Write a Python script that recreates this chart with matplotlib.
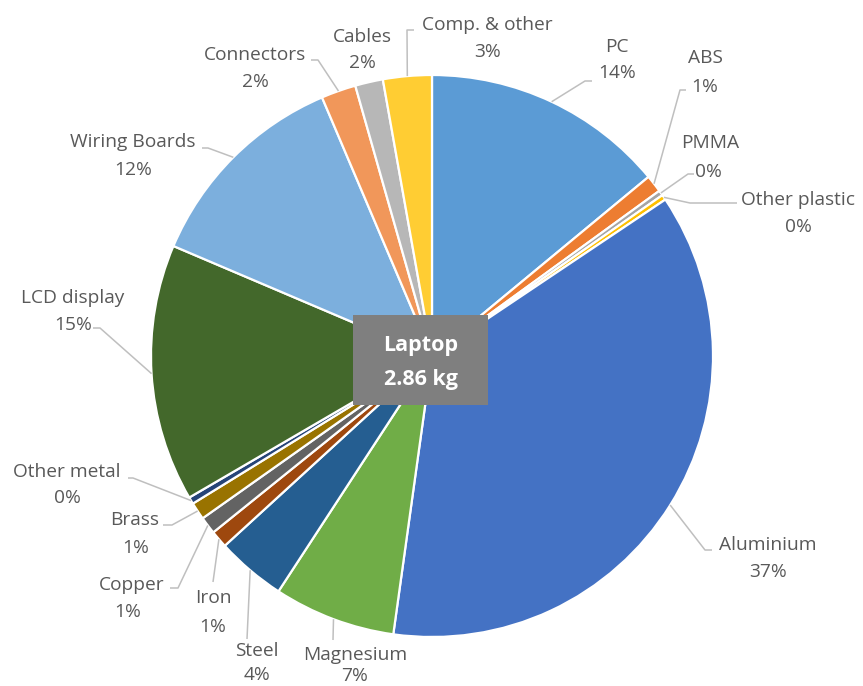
import numpy as np
import matplotlib.pyplot as plt
from matplotlib.patches import Rectangle

plt.rcParams['font.family'] = ['Open Sans', 'DejaVu Sans']

# Material composition of a laptop (share of total mass, %)
materials = ['PC', 'ABS', 'PMMA', 'Other plastic', 'Aluminium', 'Magnesium',
             'Steel', 'Iron', 'Copper', 'Brass', 'Other metal', 'LCD display',
             'Wiring Boards', 'Connectors', 'Cables', 'Comp. & other']
shares = [14.0, 1.0, 0.3, 0.3, 36.6, 7.0, 4.0, 1.0, 1.0, 1.0, 0.4, 14.8,
          12.2, 2.0, 1.6, 2.8]
colors = ['#5B9BD5', '#ED7D31', '#A5A5A5', '#FFC000', '#4472C4', '#70AD47',
          '#255E91', '#9E480E', '#636363', '#997300', '#264478', '#43682B',
          '#7CAFDD', '#F1975A', '#B7B7B7', '#FFCD33']
product = 'Laptop'
total_mass = '2.86 kg'

# label placement (pixel coords): name position, percent position, leader path
label_layout = {
    'PC':            ((617, 47), (617, 73), [(585, 81), (592, 81)]),
    'ABS':           ((705, 58), (705, 87), [(680, 90), (686, 90)]),
    'PMMA':          ((710, 143), (708, 172), [(688, 174), (694, 174)]),
    'Other plastic': ((798, 200), (798, 227), [(690, 203), (737, 203)]),
    'Aluminium':     ((768, 545), (768, 572), [(705, 550), (712, 550)]),
    'Magnesium':     ((355, 655), (355, 676), [(333, 640)]),
    'Steel':         ((257, 651), (257, 675), [(247, 639)]),
    'Iron':          ((213, 598), (213, 627), [(213, 582)]),
    'Copper':        ((132, 585), (128, 612), [(178, 588), (170, 588)]),
    'Brass':         ((135, 520), (136, 548), [(172, 525), (163, 525)]),
    'Other metal':   ((67, 472), (67, 498), [(133, 478), (128, 478)]),
    'LCD display':   ((73, 298), (73, 325), [(100, 328), (93, 328)]),
    'Wiring Boards': ((133, 142), (133, 170), [(208, 148), (202, 148)]),
    'Connectors':    ((255, 55), (255, 82), [(318, 60), (311, 60)]),
    'Cables':        ((362, 37), (362, 63), []),
    'Comp. & other': ((487, 25), (488, 52), [(407, 30), (414, 30)]),
}

W, H = 863, 686
cx, cy, r = 432, 356, 281

fig = plt.figure(figsize=(W / 100, H / 100), dpi=100)
ax = fig.add_axes([0, 0, 1, 1])

wedges, _ = ax.pie(shares, colors=colors, startangle=270, counterclock=True,
                   center=(cx, cy), radius=r,
                   wedgeprops=dict(edgecolor='white', linewidth=1.6))
ax.set_xlim(0, W)
ax.set_ylim(H, 0)
ax.set_aspect('equal')
ax.axis('off')

text_color = '#595959'
line_color = '#BFBFBF'
for name, share, w in zip(materials, shares, wedges):
    name_xy, pct_xy, path = label_layout[name]
    ax.text(*name_xy, name, ha='center', va='center', fontsize=13.8,
            color=text_color)
    ax.text(*pct_xy, f'{share:.0f}%', ha='center', va='center', fontsize=13.8,
            color=text_color)
    if path:
        mid = np.deg2rad((w.theta1 + w.theta2) / 2)
        anchor = (cx + r * np.cos(mid), cy + r * np.sin(mid))
        pts = [anchor] + path
        xs, ys = zip(*pts)
        ax.plot(xs, ys, color=line_color, lw=1.1, solid_capstyle='butt')

# total mass box in the middle
ax.add_patch(Rectangle((353, 315), 135, 90, facecolor='#7F7F7F',
                       edgecolor='none', zorder=5))
ax.text(421, 346, product, ha='center', va='center', fontsize=15.5,
        fontweight='bold', color='white', zorder=6)
ax.text(421, 379, total_mass, ha='center', va='center', fontsize=15.5,
        fontweight='bold', color='white', zorder=6)

fig.savefig('out.png', dpi=100, facecolor='white')
